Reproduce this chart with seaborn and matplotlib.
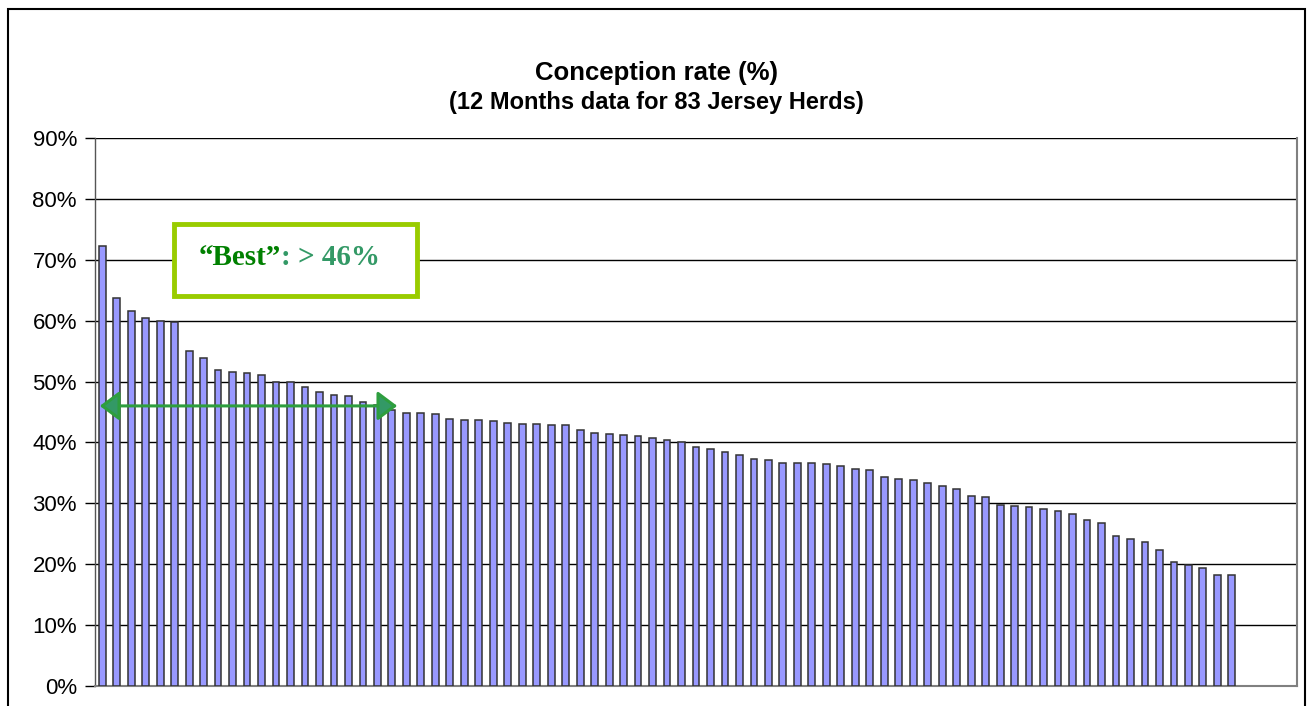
import pandas as pd
import seaborn as sns
import matplotlib.pyplot as plt
from matplotlib.patches import Rectangle, FancyArrowPatch
from matplotlib.ticker import FuncFormatter

# herd slots on the x axis (83 herds, sorted by conception rate)
herds = [str(i) for i in range(1, 84)]

# conception rate (%), one value per drawn bar
rates = [72.3, 63.8, 61.6, 60.5, 60.0, 59.8, 55.0, 53.8, 51.9, 51.6,
         51.4, 51.0, 49.9, 49.9, 49.1, 48.3, 47.8, 47.6, 46.6, 46.2,
         45.3, 44.9, 44.8, 44.7, 43.8, 43.7, 43.7, 43.6, 43.2, 43.1,
         43.0, 42.9, 42.9, 42.1, 41.5, 41.4, 41.3, 41.0, 40.7, 40.4,
         40.1, 39.3, 38.9, 38.4, 38.0, 37.3, 37.1, 36.7, 36.7, 36.6,
         36.4, 36.2, 35.6, 35.5, 34.4, 34.0, 33.8, 33.4, 32.8, 32.3,
         31.2, 31.1, 29.8, 29.5, 29.4, 29.1, 28.8, 28.2, 27.3, 26.7,
         24.6, 24.2, 23.7, 22.4, 20.4, 19.9, 19.4, 18.3, 18.2]

y_ticks = [0, 10, 20, 30, 40, 50, 60, 70, 80, 90]
best_cutoff = 46

df = pd.DataFrame({'herd': herds[:len(rates)], 'rate': rates})

sns.set_style('white')
plt.rcParams['font.family'] = ['Liberation Sans', 'DejaVu Sans']
plt.rcParams['text.color'] = 'black'
plt.rcParams['ytick.color'] = 'black'

fig = plt.figure(figsize=(13.13, 7.06), dpi=100, facecolor='white')
ax = fig.add_axes([95 / 1313, 20 / 706, 1202 / 1313, 548 / 706])

sns.barplot(data=df, x='herd', y='rate', order=herds, color='#9999FF',
            saturation=1, width=0.47, edgecolor='#333333', linewidth=1.1,
            ax=ax, zorder=3)

ax.set_ylim(0, 90)
ax.set_xlim(-0.5, len(herds) - 0.5)
ax.set_yticks(y_ticks)
ax.yaxis.set_major_formatter(FuncFormatter(lambda v, p: f'{v:.0f}%'))
ax.tick_params(axis='y', labelsize=16, length=7, width=1, color='black',
               labelcolor='black', direction='out', pad=6, left=True)
ax.set_xticks([])
ax.set_xlabel('')
ax.set_ylabel('')
ax.yaxis.grid(True, color='black', linewidth=1)
ax.set_axisbelow(True)
for s in ['right', 'bottom']:
    ax.spines[s].set_color('#808080')
    ax.spines[s].set_linewidth(1.5)
ax.spines['left'].set_color('#555555')
ax.spines['left'].set_linewidth(1)
ax.spines['top'].set_visible(False)

# double-headed arrow marking the "best" group
arrow = FancyArrowPatch((-0.36, best_cutoff), (20.56, best_cutoff),
                        arrowstyle='<|-|>,head_length=12,head_width=9',
                        mutation_scale=1, linewidth=2.2,
                        edgecolor='#2E9E3E', facecolor='#339966', zorder=5)
ax.add_patch(arrow)

# callout box
ax.add_patch(Rectangle((0.0657, 0.7117), 0.2022, 0.1314, transform=ax.transAxes,
                       fill=True, facecolor='white', edgecolor='#99CC00',
                       linewidth=3.5, zorder=6))
t1 = fig.text(199 / 1313, 1 - 257 / 706, '\u201cBest\u201d', color='#008000',
              fontsize=21, fontweight='bold', family='Liberation Serif',
              va='center', ha='left', zorder=7)
fig.canvas.draw()
bb = t1.get_window_extent()
fig.text(bb.x1 / 1313, 1 - 257 / 706, ': > 46%', color='#339966',
         fontsize=21, fontweight='bold', family='Liberation Serif',
         va='center', ha='left', zorder=7)

# titles
fig.text(0.5, 1 - 73 / 706, 'Conception rate (%)', ha='center', va='center',
         fontsize=18.5, fontweight='bold')
fig.text(0.5, 1 - 103 / 706, '(12 Months data for 83 Jersey Herds)',
         ha='center', va='center', fontsize=17, fontweight='bold')

# outer chart border
fig.add_artist(Rectangle((8 / 1313, -0.05), 1297 / 1313, 1.05 - 9 / 706,
                         transform=fig.transFigure, fill=False,
                         edgecolor='black', linewidth=1.5))

fig.savefig('out.png', dpi=100, facecolor='white')
